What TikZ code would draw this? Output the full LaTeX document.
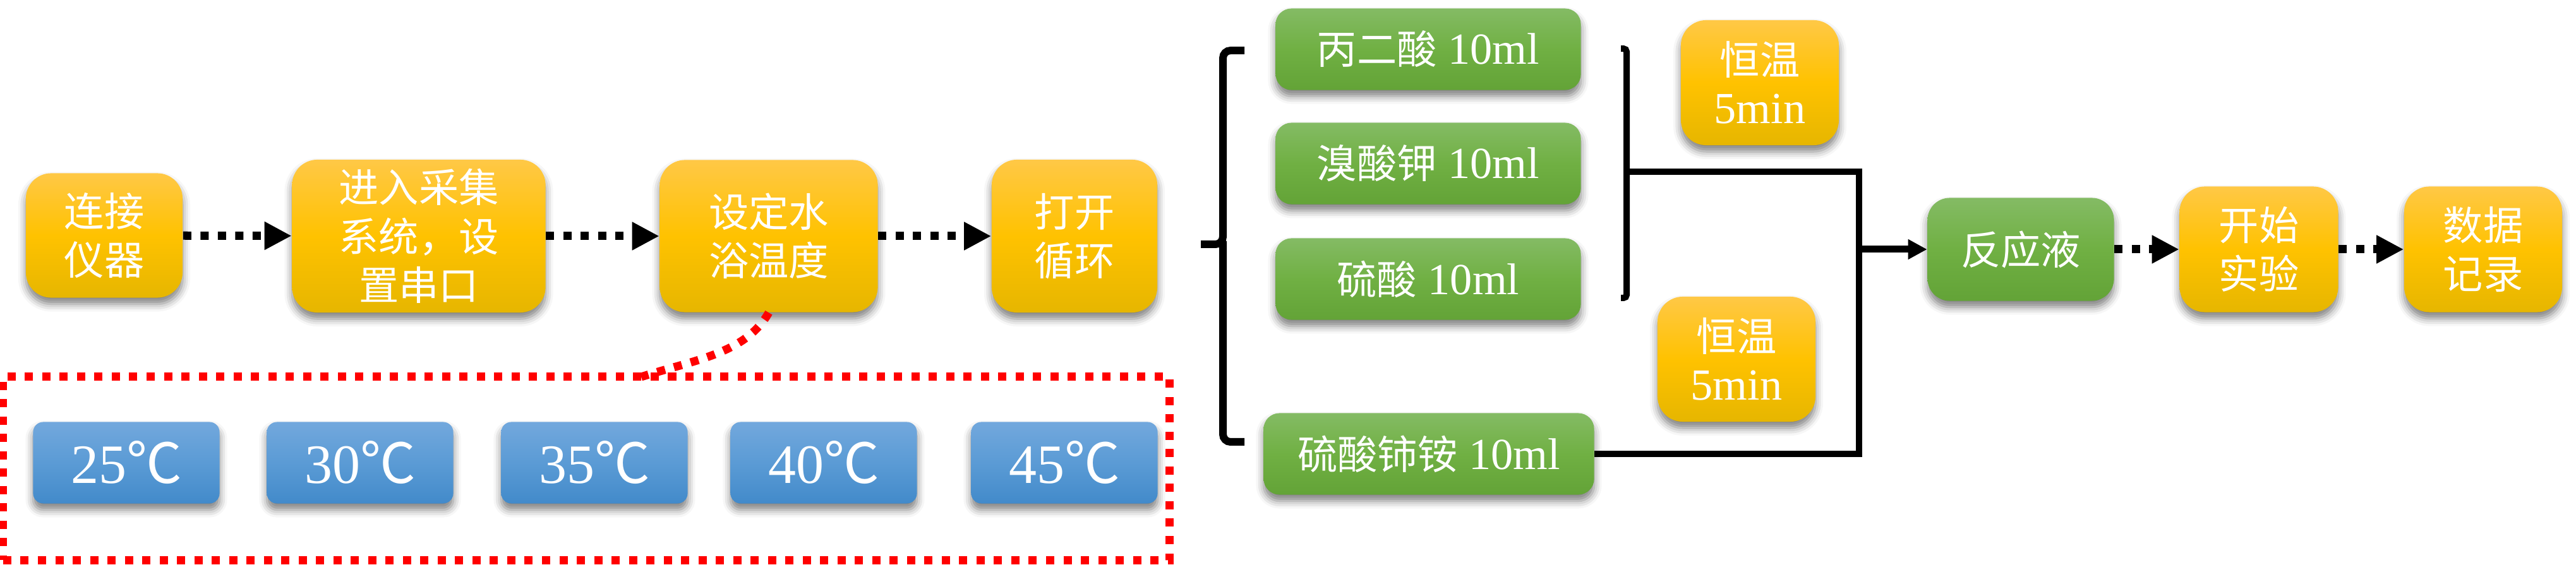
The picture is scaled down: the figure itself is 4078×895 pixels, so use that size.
\documentclass[tikz,border=0pt]{standalone}
\usepackage{fontspec}
\setmainfont{Liberation Serif}
\newfontfamily\cjk{Noto Sans CJK SC}
\newcommand\zhs[1]{{\cjk\fontsize{18pt}{22pt}\selectfont #1}}
\usetikzlibrary{arrows.meta,shadows.blur}
\definecolor{orT}{HTML}{FFC846}
\definecolor{orM}{HTML}{FFC200}
\definecolor{orB}{HTML}{E6B600}
\definecolor{grT}{HTML}{84BB64}
\definecolor{grM}{HTML}{70B043}
\definecolor{grB}{HTML}{63A337}
\definecolor{blT}{HTML}{72A8DD}
\definecolor{blM}{HTML}{5B9BD5}
\definecolor{blB}{HTML}{428ACA}
\definecolor{redd}{HTML}{FF0000}
\begin{document}
\begin{tikzpicture}[x=0.01cm,y=-0.01cm,
 shad/.style={blur shadow={shadow xshift=0cm, shadow yshift=-0.1cm, shadow blur radius=0.12cm, shadow opacity=50}},
 obox/.style={shad, rounded corners=0.4cm, top color=orT, bottom color=orB, middle color=orM, text=white, align=center, inner sep=0pt, font=\cjk\fontsize{18pt}{22pt}\selectfont},
 hbox/.style={shad, rounded corners=0.4cm, top color=orT, bottom color=orB, middle color=orM, text=white, align=center, inner sep=0pt, font=\fontsize{20pt}{22pt}\selectfont, minimum width=2.5cm, minimum height=1.98cm},
 gbox/.style={shad, rounded corners=0.25cm, top color=grT, bottom color=grB, middle color=grM, text=white, align=center, inner sep=0pt, font=\fontsize{20pt}{24pt}\selectfont, minimum height=1.29cm},
 bbox/.style={shad, rounded corners=0.16cm, top color=blT, bottom color=blB, middle color=blM, text=white, inner sep=0pt, minimum width=2.95cm, minimum height=1.29cm, font=\fontsize{25pt}{30pt}\selectfont},
 darr/.style={line width=0.13cm, dash pattern=on 0.13cm off 0.145cm, -{Triangle[length=0.43cm,width=0.42cm]}},
 sarr/.style={line width=0.11cm, -{Triangle[length=0.3cm,width=0.3cm]}},
 cline/.style={line width=0.1cm},
 rdash/.style={draw=redd, line width=0.13cm, dash pattern=on 0.13cm off 0.145cm}
]
\useasboundingbox (0,0) rectangle (4078,895);
% top flow
\node[obox, minimum width=2.48cm, minimum height=1.97cm] (A) at (165,373) {连接\\仪器};
\node[obox, minimum width=4.01cm, minimum height=2.42cm] (B) at (663,374) {进入采集\\系统，设\\置串口};
\node[obox, minimum width=3.45cm, minimum height=2.41cm] (C) at (1217,374) {设定水\\浴温度};
\node[obox, minimum width=2.62cm, minimum height=2.42cm] (D) at (1701,374) {打开\\循环};
\draw[darr] (A) -- (B);
\draw[darr] (B) -- (C);
\draw[darr] (C) -- (D);
% temperatures
\node[rdash, minimum width=18.45cm, minimum height=2.9cm, inner sep=0pt] (RR) at (928,742) {};
\coordinate (rt) at (1015,597);
\draw[rdash] (C.south) .. controls (1180,560) and (1100,570) .. (rt);
\node[bbox] (T1) at (200,733) {25{\cjk ℃}};
\node[bbox] (T2) at (570,733) {30{\cjk ℃}};
\node[bbox] (T3) at (941,733) {35{\cjk ℃}};
\node[bbox] (T4) at (1304,733) {40{\cjk ℃}};
\node[bbox] (T5) at (1685,733) {45{\cjk ℃}};
% reagents
\draw[line width=0.12cm, rounded corners=0.12cm] (1970,80) -- (1936,80) -- (1936,387) -- (1901,387);
\draw[line width=0.12cm, rounded corners=0.12cm] (1936,382) -- (1936,700) -- (1970,700);
\node[gbox, minimum width=4.83cm] (G1) at (2261,78) {\zhs{丙二酸} 10ml};
\node[gbox, minimum width=4.83cm] (G2) at (2261,259) {\zhs{溴酸钾} 10ml};
\node[gbox, minimum width=4.83cm] (G3) at (2261,442) {\zhs{硫酸} 10ml};
\node[gbox, minimum width=5.23cm] (G4) at (2262,719) {\zhs{硫酸铈铵} 10ml};
\draw[cline, rounded corners=0.05cm] (2566,77) -- (2575,77) -- (2575,472) -- (2566,472);
\node[hbox] (H1) at (2786,131) {\zhs{恒温}\\5min};
\node[hbox] (H2) at (2749,569) {\zhs{恒温}\\5min};
\coordinate (jt) at (2575,272);
\coordinate (jr) at (2943,272);
\coordinate (jm) at (2943,395);
\draw[cline] (jt) -- (jr) -- (jr |- G4.east) -- (G4.east);
% end flow
\node[obox, top color=grT, bottom color=grB, middle color=grM, rounded corners=0.35cm, minimum width=2.95cm, minimum height=1.63cm] (R) at (3199,395) {反应液};
\node[obox, minimum width=2.51cm, minimum height=1.99cm] (S) at (3576,395) {开始\\实验};
\node[obox, minimum width=2.5cm, minimum height=1.99cm] (E) at (3931,395) {数据\\记录};
\draw[sarr] (jm) -- (R.west);
\draw[darr] (R) -- (S);
\draw[darr] (S) -- (E);
\end{tikzpicture}
\end{document}
